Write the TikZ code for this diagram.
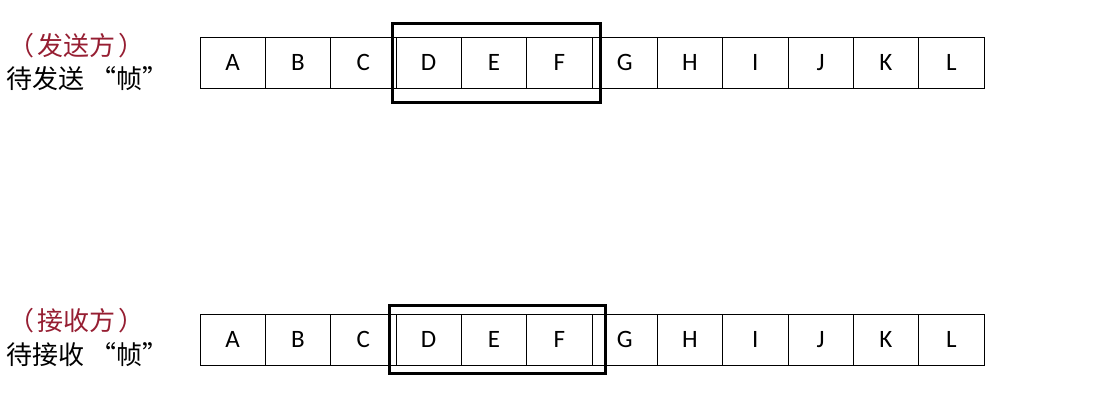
\documentclass[tikz,border=0pt]{standalone}
\usepackage{fontspec}
\setsansfont{Carlito}
\newfontfamily\cjk{Noto Sans CJK SC}
\usetikzlibrary{calc,positioning}
\definecolor{sidered}{RGB}{150,30,50}

\begin{document}
\begin{tikzpicture}[x=1pt,y=1pt,
	cell/.style={draw,line width=0.8pt,minimum width=65.33pt,minimum height=51pt,inner sep=0pt,font=\sffamily\fontsize{25}{25}\selectfont},
	win/.style={line width=3.5pt},
	side/.style={font=\cjk\fontsize{26}{26}\selectfont,inner sep=0pt,anchor=west}]
		\useasboundingbox (0,0) rectangle (1112,408);
		% sender row
		\node[side,text=sidered] (sendhead) at (8,362) {（\hspace{3pt}发送方\hspace{3pt}）};
		\node[side] (sendtext) at (6,329) {待发送\hspace{6pt}“帧”};
		\foreach \l [count=\i] in {A,B,C,D,E,F,G,H,I,J,K,L}
			\node[cell] (s\l) at (200+65.33*\i-32.67,345.5) {\l};
		\draw[win] ($(sD.north west)+(-3,13)$) rectangle ($(sF.south east)+(8,-14)$);
		% receiver row
		\node[side,text=sidered] (recvhead) at (8,87) {（\hspace{3pt}接收方\hspace{3pt}）};
		\node[side] (recvtext) at (6,53) {待接收\hspace{6pt}“帧”};
		\foreach \l [count=\i] in {A,B,C,D,E,F,G,H,I,J,K,L}
			\node[cell] (r\l) at (200+65.33*\i-32.67,68.5) {\l};
		\draw[win] ($(rD.north west)+(-6,8)$) rectangle ($(rF.south east)+(13,-8)$);
\end{tikzpicture}
\end{document}
